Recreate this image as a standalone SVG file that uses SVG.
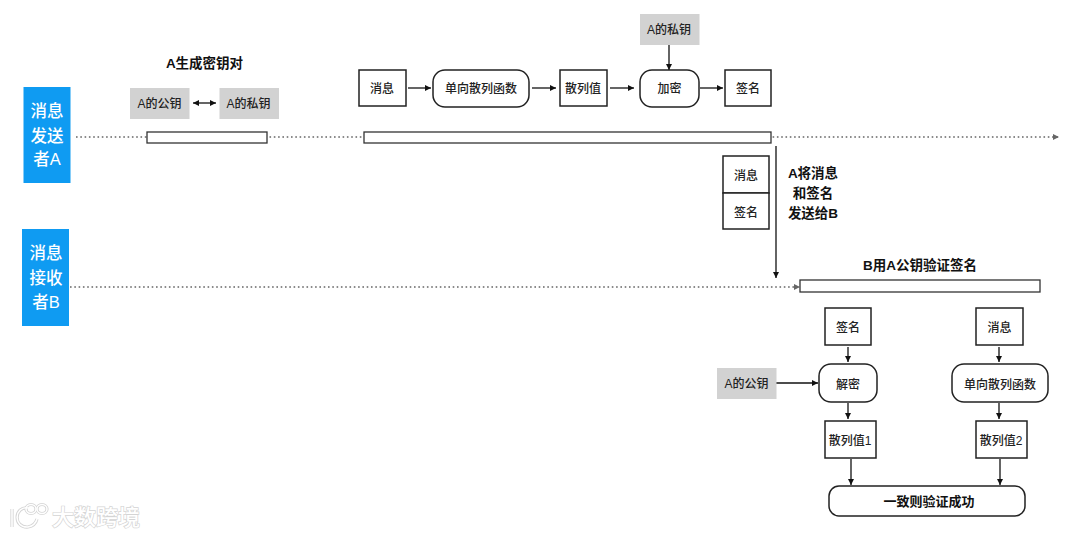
<svg xmlns="http://www.w3.org/2000/svg" width="1080" height="537" viewBox="0 0 1080 537">
<style>
text{font-family:"Liberation Sans","Noto Sans CJK SC",sans-serif;text-anchor:middle;fill:#222;font-size:12px;font-weight:500}
.b{font-weight:700;fill:#111;font-size:13.500px}
.r{font-size:13px}
.w{fill:#fff;font-size:16.500px}
.box{fill:#fff;stroke:#222;stroke-width:1.500}
.gray{fill:#d2d2d2}
.blue{fill:#0f9bf2}
.bar{fill:#fff;stroke:#333;stroke-width:1.300}
.line{stroke:#111;stroke-width:1.300;fill:none}
.dot{stroke:#666;stroke-width:1.300;stroke-dasharray:1.600 2.700;fill:none}
.wm{fill:#fff;stroke:#d4d4d4;stroke-width:1.400;font-size:22px;paint-order:stroke}
.logo{fill:none;stroke:#d4d4d4;stroke-width:3.200}
.logo2{fill:none;stroke:#fff;stroke-width:1.500}
</style>
<defs>
<marker id="a" markerWidth="7" markerHeight="7" refX="6" refY="3" orient="auto-start-reverse" markerUnits="userSpaceOnUse"><path d="M0 0L6 3L0 6z" fill="#111"/></marker>
<marker id="g" markerWidth="7" markerHeight="7" refX="6" refY="3" orient="auto" markerUnits="userSpaceOnUse"><path d="M0 0L6 3L0 6z" fill="#666"/></marker>
</defs>
<rect width="1080" height="537" fill="#fff"/>
<g id="connectors">
<path class="dot" d="M76 137H1059" marker-end="url(#g)"/>
<path class="dot" d="M70 287H800" marker-end="url(#g)"/>
<path class="line" d="M193 103H216" marker-start="url(#a)" marker-end="url(#a)"/>
<path class="line" d="M408 88H431" marker-end="url(#a)"/>
<path class="line" d="M532 88H556" marker-end="url(#a)"/>
<path class="line" d="M610 88H634" marker-end="url(#a)"/>
<path class="line" d="M700 88H723" marker-end="url(#a)"/>
<path class="line" d="M669 45V70" marker-end="url(#a)"/>
<path class="line" d="M776 146V278" marker-end="url(#a)"/>
<path class="line" d="M848 347V362" marker-end="url(#a)"/>
<path class="line" d="M999 347V362" marker-end="url(#a)"/>
<path class="line" d="M848 403V419" marker-end="url(#a)"/>
<path class="line" d="M999 403V419" marker-end="url(#a)"/>
<path class="line" d="M851 459V485" marker-end="url(#a)"/>
<path class="line" d="M1000 459V485" marker-end="url(#a)"/>
<path class="line" d="M776 383H818" marker-end="url(#a)"/>
</g>
<g id="senderA"><rect class="blue" x="23.500" y="87" width="47" height="96"/><text class="w" x="47" y="117">消息</text><text class="w" x="47" y="142">发送</text><text class="w" x="47" y="165">者A</text></g>
<g id="receiverB"><rect class="blue" x="22" y="229" width="47" height="97"/><text class="w" x="46" y="259">消息</text><text class="w" x="46" y="284">接收</text><text class="w" x="46" y="308">者B</text></g>
<g id="titleKeys"><text class="b" x="204.500" y="68">A生成密钥对</text></g>
<g id="pubA"><rect class="gray" x="130" y="88" width="59.500" height="31"/><text x="159.500" y="108">A的公钥</text></g>
<g id="priA"><rect class="gray" x="219.500" y="88" width="59.500" height="31"/><text x="248.500" y="108">A的私钥</text></g>
<g id="barKeys"><rect class="bar" x="147" y="132" width="120" height="11"/></g>
<g id="barSign"><rect class="bar" x="364" y="132" width="407" height="11"/></g>
<g id="barVerify"><rect class="bar" x="800" y="280" width="240" height="12"/></g>
<g id="msg1"><rect class="box" x="359" y="70" width="47" height="36"/><text x="382" y="93">消息</text></g>
<g id="hash1"><rect class="box" x="433" y="70" width="96" height="37" rx="12"/><text x="481" y="93">单向散列函数</text></g>
<g id="digest"><rect class="box" x="560" y="70" width="47" height="36"/><text x="583" y="93">散列值</text></g>
<g id="encrypt"><rect class="box" x="640" y="70" width="59" height="37" rx="12"/><text x="669.500" y="93">加密</text></g>
<g id="sign1"><rect class="box" x="725" y="70" width="46" height="36"/><text x="748" y="93">签名</text></g>
<g id="priTop"><rect class="gray" x="640" y="14" width="59.500" height="31"/><text x="669" y="34">A的私钥</text></g>
<g id="msg2"><rect class="box" x="723" y="156" width="46" height="37"/><text x="746" y="180">消息</text></g>
<g id="sign2"><rect class="box" x="723" y="193" width="46" height="36"/><text x="746" y="217">签名</text></g>
<g id="sendLabel"><text class="b" x="813" y="178">A将消息</text><text class="b" x="813" y="198">和签名</text><text class="b" x="813" y="218">发送给B</text></g>
<g id="titleVerify"><text class="b" x="920" y="270">B用A公钥验证签名</text></g>
<g id="sign3"><rect class="box" x="825" y="308" width="46" height="37"/><text x="848" y="332">签名</text></g>
<g id="msg3"><rect class="box" x="976" y="308" width="47" height="37"/><text x="999.500" y="332">消息</text></g>
<g id="pubB"><rect class="gray" x="717" y="368" width="59.500" height="31"/><text x="746.500" y="388">A的公钥</text></g>
<g id="decrypt"><rect class="box" x="819" y="364" width="58" height="38" rx="12"/><text x="848" y="389">解密</text></g>
<g id="hash2"><rect class="box" x="952" y="364" width="96" height="38" rx="12"/><text x="1000" y="389">单向散列函数</text></g>
<g id="digest1"><rect class="box" x="825" y="421" width="51" height="37"/><text x="850" y="445">散列值1</text></g>
<g id="digest2"><rect class="box" x="976" y="421" width="51" height="37"/><text x="1001" y="445">散列值2</text></g>
<g id="result"><rect class="box" x="829" y="486" width="196" height="30" rx="10"/><text class="b r" x="929" y="506">一致则验证成功</text></g>
<g id="watermark"><path class="logo" d="M12 509V527M28 508C14 506 13 528 28 527C33 526 36 523 37 519"/><ellipse class="logo" cx="31" cy="509" rx="5" ry="4.500"/><ellipse class="logo" cx="42" cy="509" rx="5" ry="4.500"/><path class="logo2" d="M12 509V527M28 508C14 506 13 528 28 527C33 526 36 523 37 519"/><ellipse class="logo2" cx="31" cy="509" rx="5" ry="4.500"/><ellipse class="logo2" cx="42" cy="509" rx="5" ry="4.500"/><text class="wm" x="96" y="525">大数跨境</text></g>
</svg>
